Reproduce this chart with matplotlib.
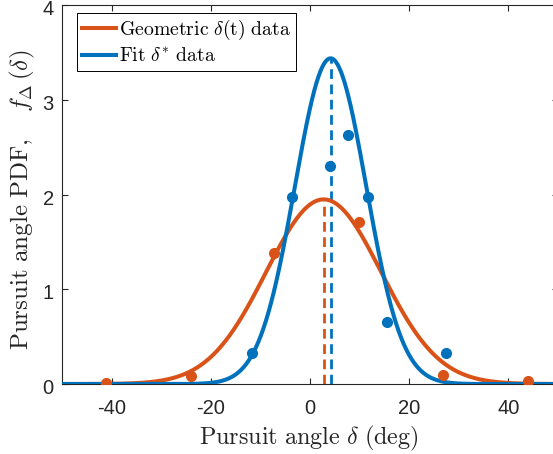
import numpy as np
import matplotlib
matplotlib.use("Agg")
import matplotlib.pyplot as plt
import matplotlib.transforms as mtransforms

plt.rcParams['mathtext.fontset'] = 'cm'
plt.rcParams['font.family'] = ['Liberation Sans', 'DejaVu Sans']
plt.rcParams['axes.unicode_minus'] = False

# fitted curve parameters (peak height, mean, std in deg)
geo_peak, geo_mu, geo_sigma = 1.95, 2.75, 11.6
fit_peak, fit_mu, fit_sigma = 3.44, 4.15, 7.2

# histogram points
geo_x = [-41.1, -24.05, -7.2, 9.88, 26.9, 44.0]
geo_y = [0.014, 0.085, 1.38, 1.71, 0.10, 0.03]
fit_x = [-11.63, -3.57, 4.03, 7.73, 11.63, 15.6, 27.4]
fit_y = [0.33, 1.98, 2.30, 2.63, 1.97, 0.66, 0.33]

orange = '#D95319'
blue = '#0072BD'
grey = '#262626'

fig = plt.figure(figsize=(5.53, 4.54), dpi=100)
ax = fig.add_axes([62/553, 70/454, 496/553, 378.7/454])

x = np.linspace(-50, 50, 1001)
g1 = geo_peak*np.exp(-(x-geo_mu)**2/(2*geo_sigma**2))
g2 = fit_peak*np.exp(-(x-fit_mu)**2/(2*fit_sigma**2))

ax.plot(x, g1, color=orange, lw=2.9, label=r'$\mathrm{Geometric}\ \delta\mathrm{(t)\ data}$', zorder=3)
ax.plot(x, g2, color=blue, lw=2.9, label=r'$\mathrm{Fit}\ \delta^{*}\ \mathrm{data}$', zorder=3)
ax.plot(geo_x, geo_y, 'o', color=orange, ms=7, zorder=4)
ax.plot(fit_x, fit_y, 'o', color=blue, ms=7, zorder=4)
ax.plot([geo_mu, geo_mu], [0, geo_peak], '--', color=orange, lw=2, dashes=(3.5, 2))
ax.plot([fit_mu, fit_mu], [0, fit_peak], '--', color=blue, lw=2, dashes=(3.5, 2))

ax.set_xlim(-50, 50)
ax.set_ylim(0, 4)
ax.set_xticks([-40, -20, 0, 20, 40])
ax.set_yticks([0, 1, 2, 3, 4])
ax.tick_params(direction='in', top=True, right=True, length=4, width=0.8,
               labelsize=14.5, colors=grey)
ax.tick_params(axis='x', pad=11)
ax.tick_params(axis='y', pad=6)
for s in ax.spines.values():
    s.set_color(grey)
    s.set_linewidth(0.8)

# matlab puts the y tick labels a little lower
shift = mtransforms.ScaledTranslation(0, -2.5/100, fig.dpi_scale_trans)
for lab in ax.get_yticklabels():
    lab.set_transform(lab.get_transform() + shift)

ax.set_xlabel(r'$\mathrm{Pursuit\ angle}\ \delta\ \mathrm{(deg)}$', fontsize=17.4, color=grey, va='center')
ax.xaxis.set_label_coords(0.498, -0.1426)
ax.set_ylabel(r'$\mathrm{Pursuit\ angle\ PDF,}\ \ \ f_{\Delta}\,(\delta)$', fontsize=18, color=grey, va='center')
ax.yaxis.set_label_coords(-0.0806, 0.486)

leg = ax.legend(loc='upper left', bbox_to_anchor=(0.031, 0.979), fontsize=14.2, fancybox=False,
                edgecolor='black', framealpha=1, handlelength=1.7, handletextpad=0.15,
                borderpad=0.25, labelspacing=0.25, borderaxespad=0)
leg.get_frame().set_linewidth(0.7)

fig.savefig('out.png', dpi=100)
